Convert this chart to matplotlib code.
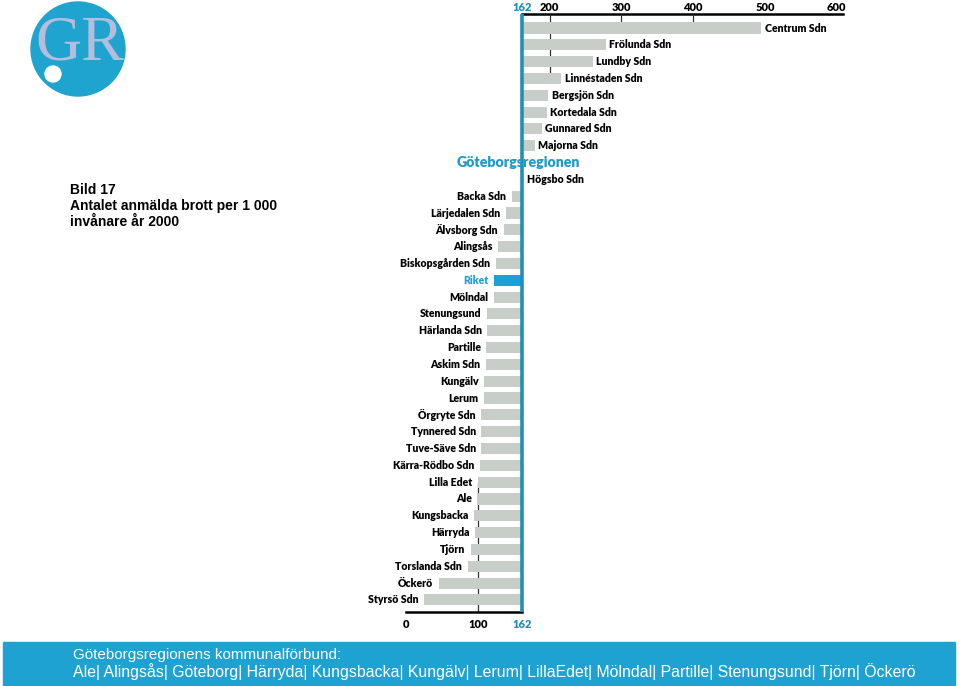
import numpy as np
import matplotlib.pyplot as plt
from matplotlib.patches import Circle, Rectangle

# reference value: Göteborgsregionen average
REF = 162

areas = ["Centrum Sdn", "Frölunda Sdn", "Lundby Sdn", "Linnéstaden Sdn", "Bergsjön Sdn",
         "Kortedala Sdn", "Gunnared Sdn", "Majorna Sdn", "Göteborgsregionen", "Högsbo Sdn",
         "Backa Sdn", "Lärjedalen Sdn", "Älvsborg Sdn", "Alingsås", "Biskopsgården Sdn",
         "Riket", "Mölndal", "Stenungsund", "Härlanda Sdn", "Partille", "Askim Sdn",
         "Kungälv", "Lerum", "Örgryte Sdn", "Tynnered Sdn", "Tuve-Säve Sdn", "Kärra-Rödbo Sdn",
         "Lilla Edet", "Ale", "Kungsbacka", "Härryda", "Tjörn", "Torslanda Sdn", "Öckerö",
         "Styrsö Sdn"]
crimes = [495, 278, 260, 216, 198, 196, 189, 179, 162, 163,
          147, 139, 136, 128, 125, 122, 122, 113, 113, 112, 111,
          109, 109, 105, 105, 105, 103,
          100, 99, 95, 96, 90, 86, 46, 25]
top_ticks = [162, 200, 300, 400, 500, 600]
bottom_ticks = [0, 100, 162]

GREY = "#c7cdc7"
BLUE = "#1ba0d8"
TEAL = "#1f91b5"

W, H = 960, 686
fig = plt.figure(figsize=(W / 100, H / 100), dpi=100)

# chart axes placed so that 0 -> x=406px, 1 unit = 0.718px
x0, ppu, xmax = 406, 0.718, 608
top_px, bot_px = 14, 612
ax = fig.add_axes([x0 / W, 1 - bot_px / H, xmax * ppu / W, (bot_px - top_px) / H])

n = len(areas)
rows = np.arange(n)
vals = np.array(crimes, dtype=float)
colors = [BLUE if a == "Riket" else GREY for a in areas]
ax.barh(rows, vals - REF, left=REF, height=0.66, color=colors, zorder=2)

row_h = 16.82
ax.set_ylim((bot_px - 28) / row_h, (top_px - 28) / row_h)
ax.set_xlim(0, xmax)

# grid marks only where bars cross them
for v in top_ticks[1:]:
    hit = rows[vals > v]
    if len(hit):
        ax.vlines(v, ax.get_ylim()[1], hit.max(), color="#333333", lw=0.9, zorder=1)
for v in bottom_ticks[1:-1]:
    hit = rows[vals <= v]
    if len(hit):
        ax.vlines(v, hit.min(), ax.get_ylim()[0], color="#333333", lw=0.9, zorder=1)

ax.axvline(REF, color=TEAL, lw=2.6, zorder=4)

lab_font = dict(family="Lato", fontweight="heavy", fontsize=7.6)
for r, a, v in zip(rows, areas, vals):
    if a == "Göteborgsregionen":
        ax.annotate(a, (REF, r), xytext=(-3, 0), textcoords="offset points",
                    ha="center", va="center", color="#1f9ac8", family="Lato",
                    fontweight="heavy", fontsize=10.2, zorder=5)
    elif v >= REF:
        ax.annotate(a, (v, r), xytext=(2.5, 0), textcoords="offset points",
                    ha="left", va="center", color="black", **lab_font)
    else:
        ax.annotate(a, (v, r), xytext=(-4, 0), textcoords="offset points",
                    ha="right", va="center",
                    color=BLUE if a == "Riket" else "black", **lab_font)

# axes lines: bottom 0..162, top 162..600+
for s in ["left", "right", "top"]:
    ax.spines[s].set_visible(False)
ax.spines["bottom"].set_bounds(0, REF)
ax.spines["bottom"].set_linewidth(1.8)
ax.set_yticks([])
ax.set_xticks(bottom_ticks, labels=[str(t) for t in bottom_ticks])
ax.tick_params(axis="x", length=0, pad=5)
for t in ax.get_xticklabels():
    t.set_fontfamily("Lato")
    t.set_fontweight("heavy")
    t.set_fontsize(8)
    t.set_color(TEAL if t.get_text() == "162" else "black")

sec = ax.secondary_xaxis("top")
sec.set_xticks(top_ticks, labels=[str(t) for t in top_ticks])
sec.tick_params(axis="x", length=0, pad=0.5)
sec.spines["top"].set_bounds(REF, xmax)
sec.spines["top"].set_linewidth(1.8)
for t in sec.get_xticklabels():
    t.set_fontfamily("Lato")
    t.set_fontweight("heavy")
    t.set_fontsize(8)
    t.set_color(TEAL if t.get_text() == "162" else "black")

# logo
lax = fig.add_axes([0, 1 - 100 / H, 160 / W, 100 / H])
lax.set_xlim(0, 160)
lax.set_ylim(100, 0)
lax.axis("off")
lax.add_patch(Circle((78, 49), 47, color="#1fa4cf"))
lax.add_patch(Circle((53, 74), 8, color="white"))
lax.text(80, 45, "GR", ha="center", va="center", family="Liberation Serif",
         fontsize=46, color="#b5bddd")

# title text
title_lines = ["Bild 17", "Antalet anmälda brott per 1 000", "invånare år 2000"]
for i, line in enumerate(title_lines):
    fig.text(70 / W, 1 - (190 + i * 16) / H, line, ha="left", va="center",
             family="Liberation Sans", fontweight="bold", fontsize=10)

# footer band
fig.patches.append(Rectangle((3 / W, 0), 952 / W, 44 / H, transform=fig.transFigure,
                             color="#1da2d2", zorder=0))
fig.text(73 / W, 1 - 655 / H, "Göteborgsregionens kommunalförbund:", color="white",
         family="Liberation Sans", fontsize=11, va="center", ha="left")
fig.text(73 / W, 1 - 672 / H,
         "Ale| Alingsås| Göteborg| Härryda| Kungsbacka| Kungälv| Lerum| LillaEdet| "
         "Mölndal| Partille| Stenungsund| Tjörn| Öckerö",
         color="white", family="Liberation Sans", fontsize=11.4, va="center", ha="left")

fig.savefig("out.png", dpi=100)
